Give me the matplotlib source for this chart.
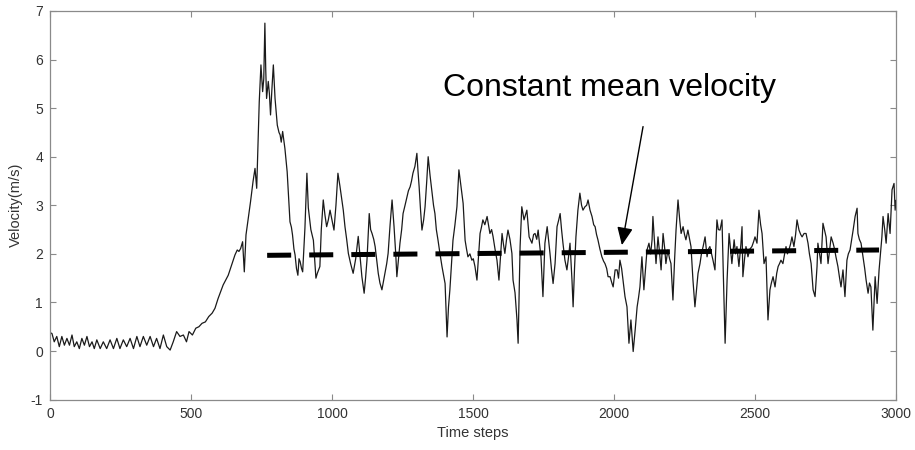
import matplotlib
matplotlib.use("Agg")
import matplotlib.pyplot as plt

plt.rcParams['font.family'] = ['Liberation Sans', 'DejaVu Sans']
plt.rcParams['lines.scale_dashes'] = False
plt.rcParams['axes.unicode_minus'] = False

# ---- data ----
t_seg1 = [0, 7, 15, 24, 33, 42, 51, 60, 69, 78, 86, 95, 104, 113, 122, 131, 140, 149, 157, 166,
          178, 189, 201, 213, 225, 237, 248, 260, 272, 284, 296, 308, 319, 331, 343, 355, 367, 378,
          390, 402, 414, 426, 437, 449, 461, 473, 484, 493, 505, 517, 528, 539, 551, 563, 575, 585]
v_seg1 = [0.38, 0.36, 0.19, 0.30, 0.09, 0.30, 0.12, 0.26, 0.12, 0.33, 0.09, 0.19, 0.05, 0.26, 0.12,
          0.30, 0.09, 0.19, 0.05, 0.23, 0.05, 0.19, 0.05, 0.23, 0.05, 0.26, 0.05, 0.23, 0.09, 0.26,
          0.05, 0.30, 0.09, 0.30, 0.12, 0.30, 0.09, 0.26, 0.05, 0.33, 0.09, 0.02, 0.19, 0.40, 0.30,
          0.33, 0.19, 0.40, 0.33, 0.47, 0.50, 0.57, 0.60, 0.71, 0.78, 0.88]

t_seg2 = [596, 614, 632, 644, 656, 664, 670, 676, 683, 689, 695, 703, 711, 720, 727, 733, 738, 742,
          748, 754, 758, 762, 765, 768, 774, 778, 782, 787, 792, 798, 806, 812, 816, 820, 825, 833,
          841, 851, 856, 860, 865, 869, 874, 879, 883, 887, 892, 896, 904, 911]
v_seg2 = [1.08, 1.36, 1.56, 1.77, 1.98, 2.08, 2.05, 2.11, 2.25, 1.63, 2.39, 2.73, 3.07, 3.49, 3.76,
          3.35, 4.31, 5.13, 5.89, 5.34, 5.6, 6.75, 5.8, 5.2, 5.55, 5.3, 4.86, 5.4, 5.89, 5.2, 4.65,
          4.5, 4.45, 4.3, 4.52, 4.17, 3.69, 2.66, 2.55, 2.39, 2.1, 1.98, 1.7, 1.56, 1.9, 1.84, 1.7,
          1.63, 2.53, 3.66]

t_seg3 = [916, 925, 934, 943, 948, 957, 962, 969, 975, 981, 987, 993, 1000, 1007, 1014, 1021, 1028,
          1035, 1040, 1046, 1052, 1058, 1066, 1075, 1084, 1093, 1100, 1106, 1114, 1119, 1124, 1132,
          1137, 1142, 1148, 1153, 1158, 1164, 1170, 1177, 1183, 1188, 1194, 1199, 1206, 1213, 1220,
          1226, 1230, 1236, 1241, 1247, 1252, 1259, 1266, 1271, 1277, 1282, 1287, 1294, 1301, 1305,
          1309, 1314, 1319, 1325, 1330, 1336, 1341, 1348, 1355, 1360, 1365, 1370, 1376, 1383, 1390,
          1396, 1401, 1408, 1413, 1418, 1424, 1429, 1436, 1443, 1450, 1457, 1465, 1472, 1477, 1482,
          1489, 1496, 1501, 1507, 1514, 1520, 1525, 1530, 1535, 1542, 1550, 1555, 1560, 1566, 1571,
          1578, 1585, 1592, 1598, 1603, 1608, 1613, 1619, 1624, 1631, 1638, 1642, 1649, 1656, 1660,
          1667, 1673, 1681, 1691, 1699, 1709, 1715, 1720, 1726, 1731, 1736, 1741, 1748, 1755, 1763]
v_seg3 = [2.95, 2.5, 2.28, 1.5, 1.6, 1.74, 2.5, 3.11, 2.8, 2.56, 2.7, 2.9, 2.7, 2.49, 3.0, 3.66, 3.4,
          3.11, 2.9, 2.56, 2.3, 2.01, 1.8, 1.6, 1.9, 2.36, 1.9, 1.53, 1.19, 1.5, 1.87, 2.83,
          2.5, 2.42, 2.3, 2.15, 1.9, 1.6, 1.4, 1.26, 1.45, 1.6, 1.8, 2.01, 2.6, 3.11, 2.56,
          2.0, 1.53, 1.9, 2.22, 2.5, 2.83, 3.0, 3.18, 3.3, 3.38, 3.5, 3.66, 3.8, 4.07, 3.7,
          3.38, 2.9, 2.49, 2.7, 2.97, 3.5, 4.0, 3.6, 3.25, 3.0, 2.83, 2.5, 2.28, 2.0, 1.74,
          1.55, 1.39, 0.29, 0.9, 1.26, 1.8, 2.28, 2.6, 2.97, 3.73, 3.4, 3.04, 2.28, 2.1, 1.94,
          2.0, 1.87, 1.9, 1.74, 1.46, 2.0, 2.42, 2.55, 2.7, 2.6, 2.77, 2.6, 2.42, 2.5, 2.36,
          2.1, 1.87, 1.46, 2.0, 2.42, 2.2, 2.01, 2.3, 2.49, 2.3, 2.01, 1.46, 1.2, 0.64, 0.16,
          2.15, 2.97, 2.7, 2.9, 2.35, 2.22, 2.4, 2.42, 2.3, 2.49, 2.2, 1.94, 1.12, 2.22, 2.56]

t_seg4 = [1773, 1778, 1784, 1791, 1798, 1804, 1809, 1814, 1819, 1826, 1833, 1838, 1844, 1851, 1855,
          1860, 1865, 1872, 1879, 1885, 1890, 1897, 1903, 1908, 1915, 1922, 1928, 1933, 1938, 1943,
          1950, 1957, 1963, 1968, 1974, 1979, 1986, 1993, 1997, 2004, 2011, 2016, 2021, 2027, 2032,
          2039, 2046, 2053, 2060, 2068, 2075, 2082, 2087, 2092, 2099, 2106, 2112, 2117, 2124, 2130,
          2135, 2138, 2143, 2149, 2156, 2162, 2167, 2174, 2180, 2184, 2191, 2197, 2202, 2209, 2215,
          2220, 2227, 2233, 2238, 2245, 2250, 2255, 2262, 2268, 2273, 2280, 2287, 2293, 2298, 2305,
          2310, 2316, 2323, 2330, 2335, 2340, 2346, 2351, 2358, 2365, 2370, 2376, 2383, 2387, 2394]
v_seg4 = [2.01, 1.7, 1.39, 1.8, 2.56, 2.7, 2.83, 2.5, 2.22, 1.87, 1.67, 1.9, 2.22, 1.46, 0.91,
          1.7, 2.35, 2.9, 3.25, 3.0, 2.9, 2.97, 3.0, 3.11, 2.9, 2.77, 2.6, 2.56, 2.4, 2.29,
          2.1, 1.94, 1.85, 1.8, 1.7, 1.53, 1.53, 1.39, 1.32, 1.67, 1.67, 1.5, 1.87, 1.7, 1.46,
          1.12, 0.91, 0.16, 0.64, -0.01, 0.43, 0.91, 1.1, 1.32, 1.94, 1.26, 1.7, 2.08, 2.22, 2.0,
          2.29, 2.77, 2.3, 1.8, 2.35, 2.0, 1.67, 2.42, 2.1, 1.8, 2.08, 1.9, 1.8, 1.05, 1.9,
          2.49, 3.11, 2.7, 2.42, 2.56, 2.4, 2.29, 2.49, 2.3, 2.15, 1.46, 0.91, 1.3, 1.6, 1.8,
          2.0, 2.15, 2.35, 1.94, 2.1, 2.15, 2.0, 1.87, 1.67, 2.7, 2.5, 2.49, 2.7, 1.74, 0.16]

t_seg5 = [2401, 2408, 2413, 2418, 2426, 2431, 2436, 2443, 2450, 2454, 2457, 2463, 2468, 2475, 2482,
          2489, 2495, 2500, 2507, 2514, 2520, 2525, 2532, 2539, 2546, 2553, 2558, 2564, 2571, 2577,
          2582, 2587, 2592, 2599, 2605, 2610, 2615, 2620, 2626, 2631, 2638, 2644, 2649, 2656, 2662,
          2667, 2674, 2681, 2688, 2693, 2699, 2706, 2713, 2720, 2723, 2729, 2734, 2741, 2746, 2752,
          2759, 2765, 2770, 2777, 2782, 2787, 2794, 2800, 2805, 2812, 2819, 2826, 2831, 2837, 2843,
          2848, 2855, 2862, 2865, 2870, 2876, 2883, 2889, 2894, 2901, 2906, 2911, 2918, 2926, 2933,
          2940, 2945, 2950, 2954, 2960, 2965, 2972, 2979, 2986, 2993, 2997, 3000]
v_seg5 = [1.46, 2.42, 2.1, 1.8, 2.29, 2.0, 2.15, 1.74, 2.2, 2.56, 1.53, 1.9, 2.15, 1.94, 2.1,
          2.15, 2.25, 2.35, 2.22, 2.9, 2.6, 2.42, 1.8, 1.94, 0.64, 1.26, 1.4, 1.53, 1.32, 1.6,
          1.74, 1.8, 1.87, 1.8, 2.0, 2.15, 2.0, 2.08, 2.2, 2.35, 2.15, 2.4, 2.7, 2.49, 2.4,
          2.35, 2.42, 2.42, 2.22, 2.0, 1.8, 1.26, 1.12, 1.74, 2.22, 2.0, 1.8, 2.63, 2.5, 2.35,
          1.8, 2.1, 2.35, 2.22, 2.1, 1.94, 1.74, 1.5, 1.32, 1.67, 1.12, 1.87, 2.0, 2.08, 2.3,
          2.49, 2.77, 2.94, 2.42, 2.3, 2.22, 1.94, 1.7, 1.46, 1.19, 1.4, 1.32, 0.43, 1.53, 0.98,
          1.67, 2.0, 2.35, 2.77, 2.5, 2.22, 2.83, 2.42, 3.32, 3.45, 2.9, 3.1]

mean_t = [770, 2940]
mean_v = [1.97, 2.08]

x_ticks = [0, 500, 1000, 1500, 2000, 2500, 3000]
y_ticks = [-1, 0, 1, 2, 3, 4, 5, 6, 7]

annot_text = "Constant mean velocity"
annot_text_xy = (1985, 5.41)
annot_arrow_from = (2103, 4.62)
annot_arrow_to = (2028, 2.18)

time_steps = t_seg1 + t_seg2 + t_seg3 + t_seg4 + t_seg5
velocity = v_seg1 + v_seg2 + v_seg3 + v_seg4 + v_seg5
assert len(time_steps) == len(velocity), (len(time_steps), len(velocity))

# ---- figure ----
fig = plt.figure(figsize=(9.15, 4.5), dpi=100)
ax = fig.add_axes([50 / 915, 1 - 399.6 / 450, 846 / 915, (399.6 - 11) / 450])

ax.plot(time_steps, velocity, color='#1a1a1a', lw=0.9)
ax.plot(mean_t, mean_v, color='black', lw=3.6, dashes=(17.3, 13.0), solid_capstyle='butt',
        dash_capstyle='butt')

ax.set_xlim(0, 3000)
ax.set_ylim(-1, 7)
ax.set_xticks(x_ticks)
ax.set_yticks(y_ticks)
ax.tick_params(direction='in', length=4.5, width=0.8, colors='#8a8a8a', labelcolor='#333333',
               labelsize=10, top=True, right=True, pad=5)
for s in ax.spines.values():
    s.set_color('#8a8a8a')
    s.set_linewidth(0.9)

ax.set_xlabel('Time steps', fontsize=10.5, color='#333333', labelpad=4)
ax.set_ylabel('Velocity(m/s)', fontsize=10.5, color='#333333', labelpad=6)

ax.text(annot_text_xy[0], annot_text_xy[1], annot_text, fontsize=23, ha='center', va='center',
        color='black')
ax.annotate('', xy=annot_arrow_to, xytext=annot_arrow_from,
            arrowprops=dict(arrowstyle='-|>,head_length=0.9,head_width=0.4', mutation_scale=12,
                            lw=1.0, color='black', shrinkA=0, shrinkB=0))

fig.savefig('out.png', dpi=100, facecolor='white')
